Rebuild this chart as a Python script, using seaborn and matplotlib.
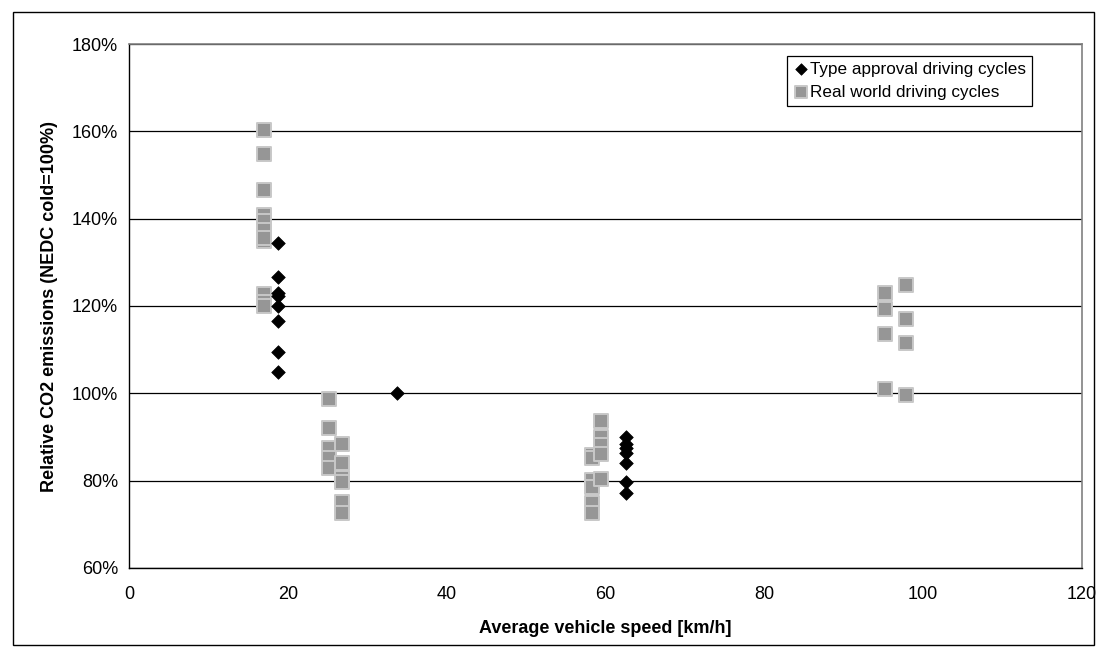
import matplotlib
matplotlib.use("Agg")
import matplotlib.pyplot as plt
import seaborn as sns
import pandas as pd
from matplotlib.patches import Rectangle
from matplotlib.ticker import FuncFormatter, MultipleLocator

# ---- data ----
type_speed = [18.8, 18.8, 18.8, 18.8, 18.8, 18.8, 18.8, 18.8,
              33.7,
              62.6, 62.6, 62.6, 62.6, 62.6, 62.6, 62.6]
type_co2 = [134.4, 126.7, 123.0, 122.3, 120.0, 116.6, 109.5, 104.8,
            100.0,
            89.9, 88.5, 87.4, 86.4, 84.0, 79.8, 77.1]

real_speed = [17.0, 17.0, 17.0, 17.0, 17.0, 17.0, 17.0, 17.0, 17.0, 17.0, 17.0,
              25.2, 25.2, 25.2, 25.2, 25.2,
              26.8, 26.8, 26.8, 26.8, 26.8, 26.8,
              58.3, 58.3, 58.3, 58.3, 58.3, 58.3,
              59.4, 59.4, 59.4, 59.4, 59.4,
              95.2, 95.2, 95.2, 95.2,
              97.9, 97.9, 97.9, 97.9]
real_co2 = [160.2, 154.7, 146.5, 140.8, 139.4, 137.5, 135.0, 122.7, 121.0, 120.0, 135.5,
            98.7, 92.0, 87.5, 85.3, 82.8,
            88.5, 84.0, 80.5, 79.8, 75.2, 72.7,
            85.9, 85.1, 80.1, 78.5, 74.8, 72.7,
            93.7, 89.9, 88.1, 86.2, 80.4,
            122.9, 119.2, 113.5, 101.1,
            124.9, 117.0, 111.6, 99.7]

series_labels = ["Type approval driving cycles", "Real world driving cycles"]
x_label = "Average vehicle speed [km/h]"
y_label = "Relative CO2 emissions (NEDC cold=100%)"

# ---- plotting ----
sns.set_style("white")
plt.rcParams["font.family"] = ["Liberation Sans", "DejaVu Sans"]
plt.rcParams["text.color"] = "black"
plt.rcParams["axes.labelcolor"] = "black"

fig = plt.figure(figsize=(11.0, 6.56), dpi=100)
ax = fig.add_axes([129 / 1100, 1 - 568 / 656, (1082 - 129) / 1100, (568 - 44) / 656])

df_real = pd.DataFrame({"speed": real_speed, "co2": real_co2})
df_type = pd.DataFrame({"speed": type_speed, "co2": type_co2})

ax.set_axisbelow(True)
ax.yaxis.grid(True, color="black", linewidth=0.9)
ax.xaxis.grid(False)

sns.scatterplot(data=df_real, x="speed", y="co2", ax=ax, marker="s", s=95,
                color="#969696", edgecolor="#c8c8c8", linewidth=1.4,
                label=series_labels[1], zorder=3)
sns.scatterplot(data=df_type, x="speed", y="co2", ax=ax, marker="D", s=48,
                color="black", edgecolor="black", linewidth=0.5,
                label=series_labels[0], zorder=4)

ax.set_xlim(0, 120)
ax.set_ylim(60, 180)
ax.xaxis.set_major_locator(MultipleLocator(20))
ax.yaxis.set_major_locator(MultipleLocator(20))
ax.yaxis.set_major_formatter(FuncFormatter(lambda v, p: f"{v:.0f}%"))

for side in ("left", "bottom"):
    ax.spines[side].set_color("black")
    ax.spines[side].set_linewidth(1.0)
for side in ("top", "right"):
    ax.spines[side].set_color("#808080")
    ax.spines[side].set_linewidth(1.2)

ax.tick_params(axis="both", direction="out", length=5, width=0.9, color="black",
               labelsize=13, labelcolor="black", pad=3)
ax.tick_params(axis="x", pad=8)

ax.set_xlabel(x_label, fontsize=13, fontweight="bold", labelpad=12, color="black")
ax.set_ylabel(y_label, fontsize=13, fontweight="bold", labelpad=10, color="black")

handles, labels = ax.get_legend_handles_labels()
order = [labels.index(series_labels[0]), labels.index(series_labels[1])]
leg = ax.legend([handles[i] for i in order], [labels[i] for i in order],
                loc="upper left", bbox_to_anchor=((787 - 129) / (1082 - 129), 1 - (56 - 44) / (568 - 44)),
                frameon=True, fancybox=False, framealpha=1, edgecolor="black",
                fontsize=12.3, handletextpad=0.1, borderpad=0.35, labelspacing=0.45,
                handlelength=0.9, markerscale=0.85, borderaxespad=0)
leg.get_frame().set_linewidth(0.9)
for t in leg.get_texts():
    t.set_color("black")

# outer frame around the whole chart
fig.patches.append(Rectangle((13 / 1100, 1 - 645 / 656), (1094 - 13) / 1100, (645 - 12) / 656,
                             transform=fig.transFigure, fill=False, edgecolor="black",
                             linewidth=1.0))

fig.savefig("out.png", dpi=100)
